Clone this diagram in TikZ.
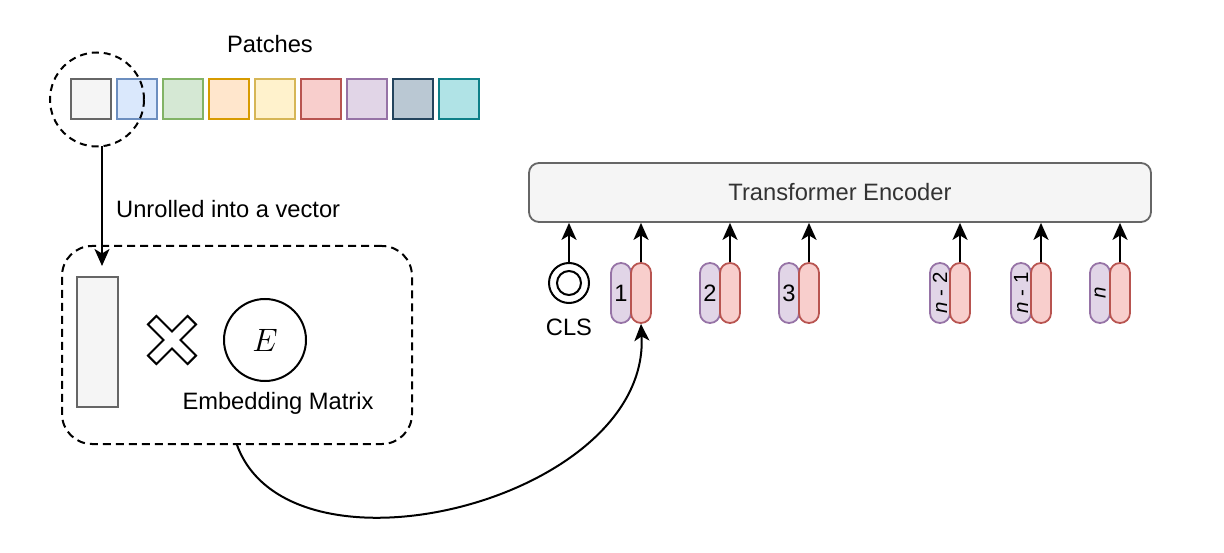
\documentclass[tikz,border=0pt]{standalone}
\usepackage{fontspec}
\setmainfont{Liberation Sans}
\usetikzlibrary{arrows.meta}
\definecolor{gF}{HTML}{F5F5F5}\definecolor{gD}{HTML}{666666}
\definecolor{bF}{HTML}{DAE8FC}\definecolor{bD}{HTML}{6C8EBF}
\definecolor{grF}{HTML}{D5E8D4}\definecolor{grD}{HTML}{82B366}
\definecolor{oF}{HTML}{FFE6CC}\definecolor{oD}{HTML}{D79B00}
\definecolor{yF}{HTML}{FFF2CC}\definecolor{yD}{HTML}{D6B656}
\definecolor{rF}{HTML}{F8CECC}\definecolor{rD}{HTML}{B85450}
\definecolor{pF}{HTML}{E1D5E7}\definecolor{pD}{HTML}{9673A6}
\definecolor{dF}{HTML}{BAC8D3}\definecolor{dD}{HTML}{23445D}
\definecolor{tF}{HTML}{B0E3E6}\definecolor{tD}{HTML}{0E8088}
\definecolor{txt}{HTML}{333333}
\tikzset{
  patch/.style 2 args={draw=#1, fill=#2, line width=2pt, minimum size=40pt, inner sep=0pt},
  pill/.style 2 args={draw=#1, fill=#2, line width=1.8pt, minimum width=20pt, minimum height=60pt, rounded corners=9.9pt, inner sep=0pt},
  lbl/.style={font=\fontsize{23.7}{28}\selectfont, inner sep=0pt},
  nlbl/.style={font=\fontsize{20.5}{24}\selectfont, inner sep=0pt, rotate=90},
  arr/.style={line width=2pt, -{Stealth[length=17pt,width=15pt,inset=4.5pt]}}
}
\begin{document}
\begin{tikzpicture}[x=1pt,y=-1pt]
\useasboundingbox (0,0) rectangle (1224,553);
% patches
\node[lbl] (ptitle) at (270,44) {Patches};
\node[patch={gD}{gF}] (p1) at (91,99) {};
\node[patch={bD}{bF}] (p2) at (137,99) {};
\node[patch={grD}{grF}] (p3) at (183,99) {};
\node[patch={oD}{oF}] (p4) at (229,99) {};
\node[patch={yD}{yF}] (p5) at (275,99) {};
\node[patch={rD}{rF}] (p6) at (321,99) {};
\node[patch={pD}{pF}] (p7) at (367,99) {};
\node[patch={dD}{dF}] (p8) at (413,99) {};
\node[patch={tD}{tF}] (p9) at (459,99) {};
\node[draw, circle, dashed, dash pattern=on 7pt off 5pt, line width=2pt, minimum size=94pt, inner sep=0pt] (sel) at (97,99.5) {};
% embedding box
\node[draw, dashed, dash pattern=on 8pt off 5pt, line width=2pt, rounded corners=30pt, minimum width=350pt, minimum height=198pt, inner sep=0pt] (emb) at (237,345) {};
\node[draw=gD, fill=gF, line width=2pt, minimum width=41pt, minimum height=130pt, inner sep=0pt] (vec) at (97.5,342) {};
\coordinate (atop) at (102,146.5);
\coordinate (abot) at (102,266);
\draw[arr] (atop) -- (abot);
\node[lbl, anchor=west] (unroll) at (116,209) {Unrolled into a vector};
\begin{scope}[shift={(172,340)}, rotate=45, line width=2pt]
\draw[fill=white] (6,28) -- (6,6) -- (28,6) -- (28,-6) -- (6,-6) -- (6,-28) -- (-6,-28) -- (-6,-6) -- (-28,-6) -- (-28,6) -- (-6,6) -- (-6,28) -- cycle;
\end{scope}
\node[draw, circle, line width=2pt, minimum size=82pt, inner sep=0pt, font=\fontsize{24}{28}\selectfont] (E) at (265,340) {\scalebox{1.3}{$E$}};
\node[lbl] (embl) at (278,403) {Embedding Matrix};
% transformer
\node[draw=gD, fill=gF, line width=1.8pt, rounded corners=10pt, minimum width=622pt, minimum height=59pt, inner sep=0pt, text=txt, font=\fontsize{23.7}{28}\selectfont] (enc) at (840,192.5) {Transformer Encoder};
% CLS
\node[draw, circle, line width=2pt, minimum size=40pt, inner sep=0pt] (cls) at (569,283) {};
\node[draw, circle, line width=2pt, minimum size=24pt, inner sep=0pt] (clsin) at (569,283) {};
\node[lbl] (clsl) at (569,327) {CLS};
\draw[arr] (cls.north) -- (cls.north |- enc.south);
% tokens
\foreach \i/\x in {1/621, 2/710, 3/789}{
  \node[pill={pD}{pF}] (pp\i) at (\x,293) {};
  \node[pill={rD}{rF}] (rp\i) at (\x+20,293) {};
  \node[lbl] (tl\i) at (\x,293) {\i};
  \draw[arr] (rp\i.north) -- (rp\i.north |- enc.south);
}
\foreach \i/\x/\t in {4/940/{\textit{n} - 2}, 5/1021/{\textit{n} - 1}, 6/1100/{\textit{n}}}{
  \node[pill={pD}{pF}] (pp\i) at (\x,293) {};
  \node[pill={rD}{rF}] (rp\i) at (\x+20,293) {};
  \node[nlbl] (tl\i) at (\x,293) {\t};
  \draw[arr] (rp\i.north) -- (rp\i.north |- enc.south);
}
% curve
\coordinate (cstart) at (237,445);
\draw[arr] (cstart) .. controls (290,590) and (650,500) .. (rp1.south);
\end{tikzpicture}
\end{document}
